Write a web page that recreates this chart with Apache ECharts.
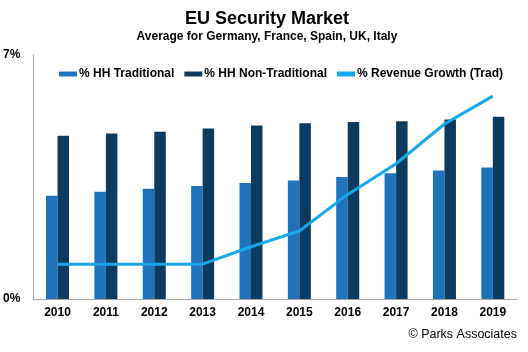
<!DOCTYPE html>
<html>
<head>
<meta charset="utf-8">
<script src="https://cdn.jsdelivr.net/npm/echarts@6/dist/echarts.min.js"></script>
<style>
  html, body { margin: 0; padding: 0; background: #fff; }
  #chart { width: 528px; height: 352px; }
</style>
</head>
<body>
<div id="chart"></div>
<script>
const years = ['2010', '2011', '2012', '2013', '2014', '2015', '2016', '2017', '2018', '2019']
const hhTraditional = [2.96, 3.08, 3.16, 3.24, 3.33, 3.40, 3.50, 3.61, 3.69, 3.77]
const hhNonTraditional = [4.68, 4.75, 4.80, 4.89, 4.98, 5.04, 5.08, 5.10, 5.15, 5.23]
const revenueGrowth = [1.0, 1.0, 1.0, 1.0, 1.5, 1.95, 3.0, 3.88, 5.02, 5.82]

const font = 'Liberation Sans, Arial, sans-serif'

let chart = echarts.init(document.getElementById('chart'), null, { renderer: 'canvas' })

let option = {
  animation: false,
  textStyle: { fontFamily: font },
  title: {
    text: 'EU Security Market',
    subtext: 'Average for Germany, France, Spain, UK, Italy',
    left: 262,
    textAlign: 'center',
    top: 5,
    itemGap: 3,
    textStyle: { fontSize: 18, fontWeight: 'bold', color: '#000', fontFamily: font },
    subtextStyle: { fontSize: 12, fontWeight: 'bold', color: '#000', fontFamily: font }
  },
  legend: {
    top: 63,
    left: 54,
    itemGap: 10,
    itemWidth: 18,
    itemHeight: 5,
    textStyle: { fontSize: 12, fontWeight: 'bold', color: '#000', fontFamily: font, padding: [0, 0, 0, -3] },
    data: [
      { name: '% HH Traditional', icon: 'rect' },
      { name: '% HH Non-Traditional', icon: 'rect' },
      { name: '% Revenue Growth (Trad)', icon: 'rect', itemStyle: { color: '#16a8e8' } }
    ]
  },
  graphic: [{
    type: 'text',
    right: 11,
    top: 328,
    style: { text: '© Parks Associates', fill: '#000', font: '12.5px ' + font }
  }],
  grid: { left: 33, right: 11, top: 55, bottom: 53 },
  xAxis: {
    type: 'category',
    data: years,
    axisLine: { lineStyle: { color: '#a6a6a6' } },
    axisTick: { show: false },
    axisLabel: { fontSize: 12, fontWeight: 'bold', color: '#000', margin: 8 }
  },
  yAxis: {
    type: 'value',
    min: 0,
    max: 7,
    interval: 7,
    axisLine: { show: true, lineStyle: { color: '#a6a6a6' } },
    axisTick: { show: false },
    splitLine: { show: false },
    axisLabel: { fontSize: 12, fontWeight: 'bold', color: '#000', margin: 13, formatter: '{value}%' }
  },
  series: [
    {
      name: '% HH Traditional',
      type: 'bar',
      data: hhTraditional,
      barWidth: 11.5,
      barGap: '0%',
      itemStyle: { color: '#1f73ba' }
    },
    {
      name: '% HH Non-Traditional',
      type: 'bar',
      data: hhNonTraditional,
      barWidth: 11.5,
      itemStyle: { color: '#0d3a5f' }
    },
    {
      name: '% Revenue Growth (Trad)',
      type: 'line',
      data: revenueGrowth,
      symbol: 'none',
      lineStyle: { color: '#16a8e8', width: 3 },
      itemStyle: { color: '#16a8e8' }
    }
  ]
}

chart.setOption(option)
</script>
</body>
</html>
